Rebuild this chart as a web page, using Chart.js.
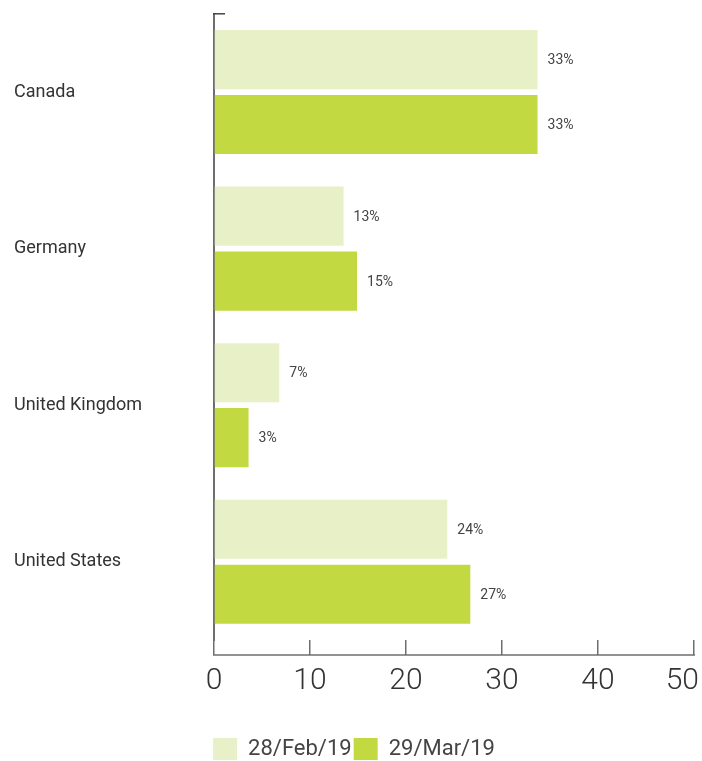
<!DOCTYPE html>
<html>
<head>
<meta charset="utf-8">
<script src="https://cdn.jsdelivr.net/npm/chart.js@4.4.1/dist/chart.umd.min.js"></script>
<style>
  html, body { margin: 0; padding: 0; background: #ffffff; }
  .chart-box { width: 702px; height: 761px; position: relative; }
</style>
</head>
<body>
<div class="chart-box"><canvas id="barChart"></canvas></div>
<script>
// Data
const countries = ["Canada", "Germany", "United Kingdom", "United States"];
const seriesNames = ["28/Feb/19", "29/Mar/19"];
const febValues = [33.7, 13.5, 6.8, 24.3];
const marValues = [33.7, 14.9, 3.6, 26.7];
const febLabels = ["33%", "13%", "7%", "24%"];
const marLabels = ["33%", "15%", "3%", "27%"];
const xTicks = [0, 10, 20, 30, 40, 50];

const axisGray = "#6e6e6e";
const TICK_LEN = 15;

// Value labels next to each bar
const barLabels = {
  id: "barLabels",
  afterDatasetsDraw(chart) {
    const ctx = chart.ctx;
    const texts = [febLabels, marLabels];
    ctx.save();
    ctx.font = "14px Roboto";
    ctx.fillStyle = "#444444";
    ctx.textAlign = "left";
    ctx.textBaseline = "middle";
    chart.data.datasets.forEach((ds, i) => {
      chart.getDatasetMeta(i).data.forEach((bar, j) => {
        ctx.fillText(texts[i][j], bar.x + 10, bar.y + 1);
      });
    });
    ctx.restore();
  },
};

// Bottom baseline, top cap, and keep the last x label inside the canvas
const axisLines = {
  id: "axisLines",
  beforeDraw(chart) {
    const items = chart.scales.x.getLabelItems();
    const last = items[items.length - 1];
    if (last) {
      last.options.textAlign = "right";
      last.options.translation[0] = chart.width - 3;
    }
  },
  afterDraw(chart) {
    const ctx = chart.ctx;
    const area = chart.chartArea;
    const x = chart.scales.x;
    ctx.save();
    ctx.strokeStyle = axisGray;
    ctx.lineWidth = 1.5;
    ctx.beginPath();
    ctx.moveTo(x.left - 1, area.bottom + TICK_LEN);
    ctx.lineTo(x.right + 1, area.bottom + TICK_LEN);
    ctx.stroke();
    ctx.strokeStyle = "#444444";
    ctx.beginPath();
    ctx.moveTo(area.left - 1, area.top);
    ctx.lineTo(area.left + 11, area.top);
    ctx.stroke();
    ctx.restore();
  },
};

new Chart(document.getElementById("barChart"), {
  type: "bar",
  data: {
    labels: countries,
    datasets: [
      {
        label: seriesNames[0],
        data: febValues,
        backgroundColor: "#e8f0c8",
        categoryPercentage: 0.83,
        barPercentage: 0.91,
      },
      {
        label: seriesNames[1],
        data: marValues,
        backgroundColor: "#c2d941",
        categoryPercentage: 0.83,
        barPercentage: 0.91,
      },
    ],
  },
  options: {
    indexAxis: "y",
    responsive: true,
    maintainAspectRatio: false,
    animation: false,
    layout: {
      padding: { top: 12, left: 14, right: 8, bottom: -9 },
    },
    plugins: {
      tooltip: { enabled: false },
      legend: {
        position: "bottom",
        labels: {
          boxWidth: 24,
          boxHeight: 22,
          padding: 2,
          color: "#444444",
          font: { family: "Roboto", size: 22 },
        },
      },
    },
    scales: {
      x: {
        min: 0,
        max: 50,
        afterBuildTicks: (scale) => {
          scale.ticks = xTicks.map((v) => ({ value: v }));
        },
        afterFit: (scale) => {
          scale.height = 96;
          scale.paddingRight = 0;
        },
        border: { display: false },
        grid: {
          drawOnChartArea: false,
          drawTicks: true,
          tickLength: TICK_LEN,
          color: axisGray,
          lineWidth: 1.5,
        },
        ticks: {
          color: "#333333",
          padding: 8,
          maxRotation: 0,
          font: { family: "Roboto", size: 30, weight: "300" },
        },
      },
      y: {
        afterFit: (scale) => {
          scale.width = 200;
        },
        border: { display: true, color: axisGray, width: 2 },
        grid: { display: false },
        ticks: {
          crossAlign: "far",
          color: "#333333",
          font: { family: "Roboto", size: 18 },
        },
      },
    },
  },
  plugins: [barLabels, axisLines],
});
</script>
</body>
</html>
